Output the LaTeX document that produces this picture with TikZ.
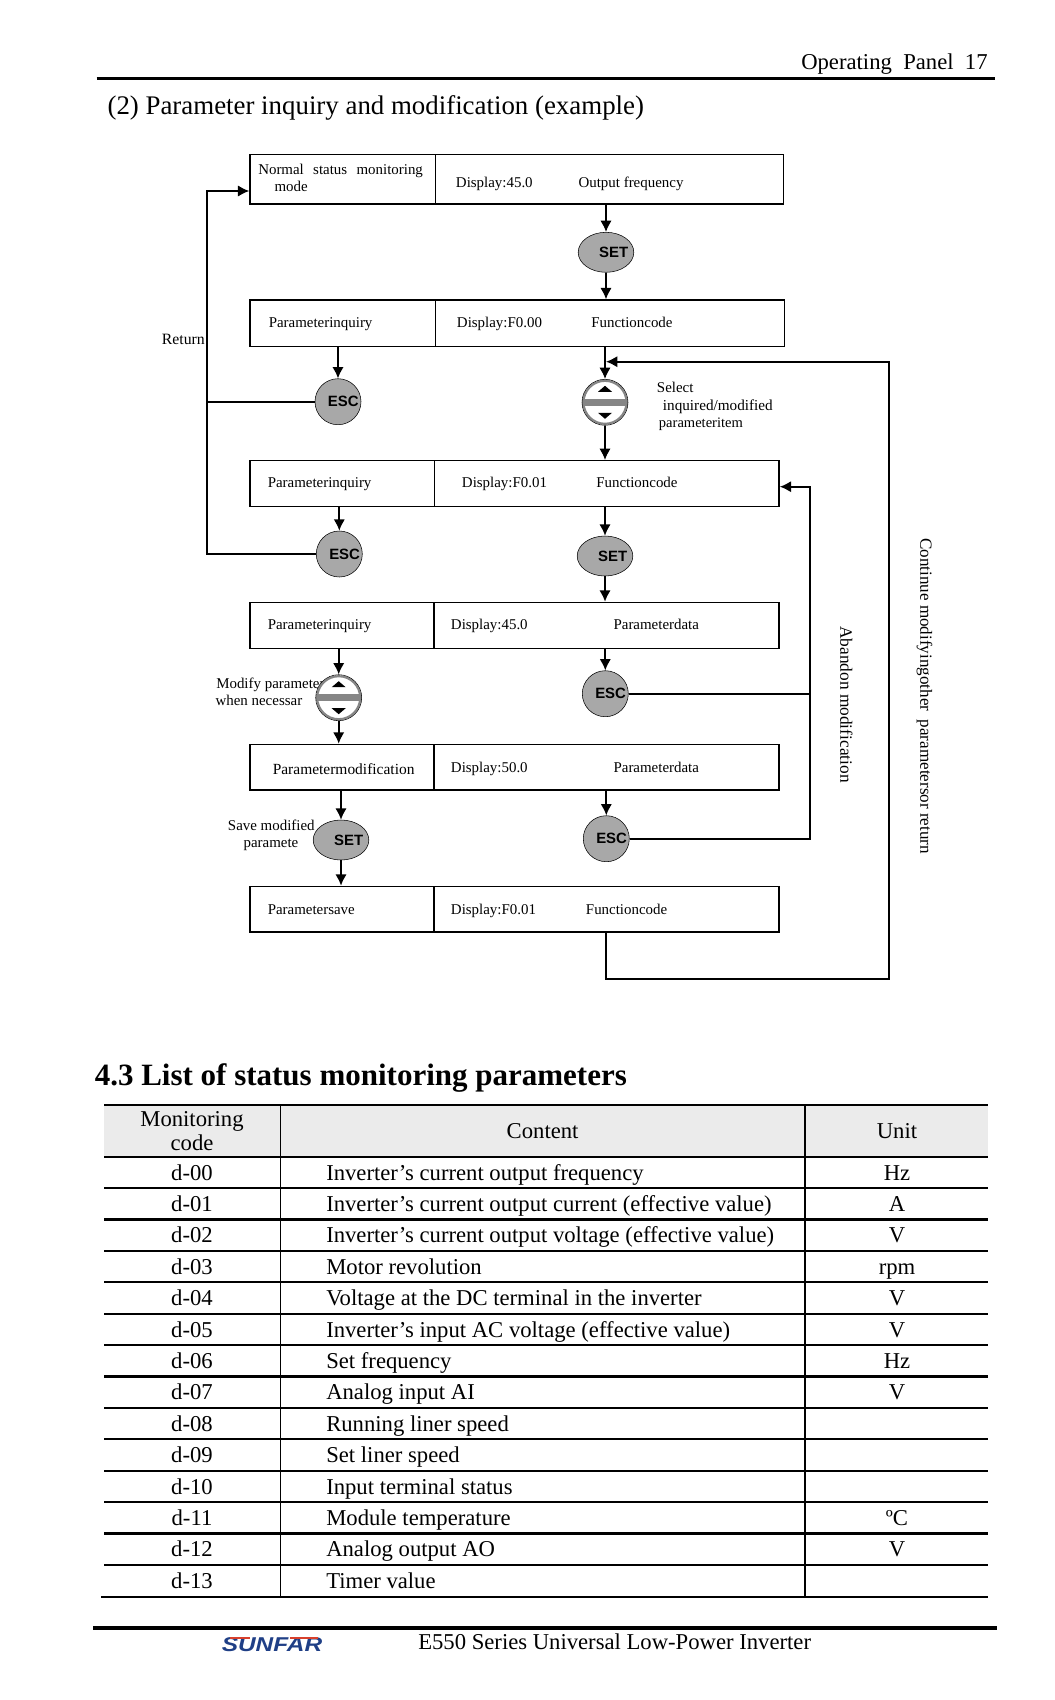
\documentclass[tikz,border=0pt]{standalone}
\usepackage{fontspec}
\setmainfont{Liberation Serif}
\newfontfamily\btnfont{Liberation Sans}
\usetikzlibrary{arrows.meta,shapes.geometric}
\definecolor{btngray}{HTML}{A8A8A8}
\definecolor{headgray}{HTML}{EBEBEB}
\definecolor{logoblue}{HTML}{1F3F86}
\definecolor{logored}{HTML}{D8402C}
\def\px{0.75pt}
\tikzset{
  cell/.style={draw,line width=1.1pt,anchor=north west,inner sep=0pt},
  txt/.style={anchor=west,inner sep=0pt,text height=7.5pt,text depth=0pt,font=\fontsize{11.2}{13}\selectfont},
  rowtxt/.style={inner sep=0pt,text height=11.5pt,text depth=0pt,font=\fontsize{17}{19}\selectfont},
  conn/.style={line width=1.3pt},
  setbtn/.style={ellipse,draw,thin,fill=btngray,inner sep=0pt,minimum width=55.6*\px,minimum height=40*\px},
  escbtn/.style={circle,draw,thin,fill=btngray,inner sep=0pt,minimum size=46*\px},
  updown/.style={circle,draw,thin,fill=white,inner sep=0pt,minimum size=46*\px,path picture={
    \begin{scope}[shift={(path picture bounding box.center)}]
      \draw[btngray!80!black,line width=1.6pt] (0,0) circle (21.5*\px);
      \fill[btngray!80!black] (-23,-3.7) rectangle (23,3.7);
      \fill[black] (-7,-10.5) -- (7,-10.5) -- (0,-16.5) -- cycle;
      \fill[black] (-7,10.5) -- (7,10.5) -- (0,16.5) -- cycle;
    \end{scope}}}
}
\newcommand{\setlab}{\makebox[0pt]{\hspace*{11.5pt}\btnfont\bfseries\fontsize{11.2}{13}\selectfont SET}}
\newcommand{\esclab}{\makebox[0pt]{\hspace*{8pt}\btnfont\bfseries\fontsize{11.2}{13}\selectfont ESC}}

\begin{document}
\begin{tikzpicture}[x=\px,y=-\px,>={Latex[length=8.5pt,width=8.5pt]}]
\useasboundingbox (0,0) rectangle (1055,1700);

% page head
\draw[line width=2.3pt] (96.7,78.3) -- (995,78.3);
\node[anchor=west,inner sep=0pt,font=\fontsize{17}{19}\selectfont] (pagehead) at (801,63.7) {Operating\ \ Panel\ \ 17};
\node[anchor=west,inner sep=0pt,font=\fontsize{20.15}{22}\selectfont] (subtitle) at (107.3,108) {(2) Parameter inquiry and modification (example)};

% the six rows of the panel
\foreach \n/\top/\bot/\mid/\rgt in {1/154/203.3/435/782.7,2/299.3/345.7/435/784,3/460/506/433.7/778.3,
  4/601.7/647.7/433.3/778.3,5/743.7/789.3/433.3/778.3,6/885.7/931.3/433.3/778.3} {
  \node[cell,minimum width={(\mid-249.3)*\px},minimum height={(\bot-\top)*\px}] (l\n) at (249.3,\top) {};
  \node[cell,minimum width={(\rgt-\mid)*\px},minimum height={(\bot-\top)*\px}] (r\n) at (\mid,\top) {};
}

\node[txt] (t1a) at (258,169) {Normal\hspace{7pt}status\hspace{7pt}monitoring};
\node[txt] (t1b) at (274.3,186) {mode};
\node[txt] (d1) at (455.7,182) {Display:45.0};
\node[txt] (f1) at (578.3,182) {Output frequency};
\node[txt] (t2) at (268.5,322.3) {Parameterinquiry};
\node[txt] (d2) at (456.7,322.3) {Display:F0.00};
\node[txt] (f2) at (591,322.3) {Functioncode};
\node[txt] (t3) at (267.5,482.7) {Parameterinquiry};
\node[txt] (d3) at (461.7,482.7) {Display:F0.01};
\node[txt] (f3) at (596,482.7) {Functioncode};
\node[txt] (t4) at (267.5,624.7) {Parameterinquiry};
\node[txt] (d4) at (450.7,624.7) {Display:45.0};
\node[txt] (f4) at (613.3,624.7) {Parameterdata};
\node[txt,font=\fontsize{11.6}{13}\selectfont] (t5) at (272.5,769.3) {Parametermodification};
\node[txt] (d5) at (450.7,767) {Display:50.0};
\node[txt] (f5) at (613.3,767) {Parameterdata};
\node[txt] (t6) at (267.5,909) {Parametersave};
\node[txt] (d6) at (450.7,909) {Display:F0.01};
\node[txt] (f6) at (585.7,909) {Functioncode};

% notes beside the buttons
\node[txt,font=\fontsize{11.8}{13}\selectfont] (ret) at (161.7,339) {Return};
\node[txt] (sel1) at (656.7,387.7) {Select};
\node[txt,font=\fontsize{11.4}{13}\selectfont] (sel2) at (662.7,405) {inquired/modified};
\node[txt,font=\fontsize{10.9}{13}\selectfont] (sel3) at (658.7,422) {parameteritem};
\node[txt] (mod1) at (216,683.3) {Modify parameter};
\node[txt] (mod2) at (215.3,700.3) {when necessar};
\node[txt] (sav1) at (227.7,825) {Save modified};
\node[txt] (sav2) at (243.3,842.7) {paramete};
\node[txt,rotate=-90,text height=8.5pt,font=\fontsize{13}{15}\selectfont] (aband) at (846,626) {Abandon modification};
\node[txt,rotate=-90,text height=8.5pt,font=\fontsize{12.8}{15}\selectfont] (cont) at (926,538) {Continue modifyingother\ \ parametersor return};

% buttons
\node[setbtn] (set1) at (606,252.3) {\setlab};
\node[escbtn] (esc1) at (338,401.7) {\esclab};
\node[updown] (ud1) at (605,402.3) {};
\node[escbtn] (esc2) at (339.3,554) {\esclab};
\node[setbtn] (set2) at (605,556) {\setlab};
\node[updown] (ud2) at (338.7,697.7) {};
\node[escbtn] (esc3) at (605.3,693.7) {\esclab};
\node[setbtn] (set3) at (341,840) {\setlab};
\node[escbtn] (esc4) at (606.3,838.7) {\esclab};

\coordinate (rettop) at (207.3,191);
\coordinate (abtop) at (810,486.7);
\coordinate (conttop) at (888.7,361.7);
\coordinate (contbot) at (888.7,979.3);

% connectors
\draw[conn,->] (set1 |- r1.south) -- (set1);
\draw[conn,->] (set1) -- (set1 |- r2.north);
\draw[conn,->] (ud1 |- r2.south) -- (ud1);
\draw[conn,->] (ud1) -- (ud1 |- r3.north);
\draw[conn,->] (set2 |- r3.south) -- (set2);
\draw[conn,->] (set2) -- (set2 |- r4.north);
\draw[conn,->] (esc3 |- r4.south) -- (esc3);
\draw[conn,->] (esc4 |- r5.south) -- (esc4);
\draw[conn,->] (esc1 |- l2.south) -- (esc1);
\draw[conn,->] (esc2 |- l3.south) -- (esc2);
\draw[conn,->] (ud2 |- l4.south) -- (ud2);
\draw[conn,->] (ud2) -- (ud2 |- l5.north);
\draw[conn,->] (set3 |- l5.south) -- (set3);
\draw[conn,->] (set3) -- (set3 |- l6.north);
\draw[conn,->] (esc2) -- (esc2 -| rettop) -- (rettop) -- (rettop -| l1.west);
\draw[conn] (esc1) -- (esc1 -| rettop);
\draw[conn,->] (esc4) -- (esc4 -| abtop) -- (abtop) -- (abtop -| r3.east);
\draw[conn] (esc3) -- (esc3 -| abtop);
\draw[conn,->] (esc4 |- r6.south) -- (esc4 |- contbot) -- (contbot) -- (conttop) -- (conttop -| set1);

% section 4.3
\node[anchor=west,inner sep=0pt,font=\fontsize{23.25}{25}\selectfont\bfseries] (sect) at (94.5,1077.5) {4.3 List of status monitoring parameters};

\fill[headgray] (104,1105.3) rectangle (988,1156.7);
\foreach \k in {0,...,13} {
  \draw[line width=1.6pt] (104,1156.7+31.4*\k) -- (988,1156.7+31.4*\k);
}
\draw[line width=1.6pt] (104,1105.3) -- (988,1105.3);
\draw[line width=1.6pt] (101,1596.6) -- (988,1596.6);
\draw[line width=1.2pt] (280.5,1105.3) -- (280.5,1596.6);
\draw[line width=1.2pt] (805,1105.3) -- (805,1596.6);

\node[inner sep=0pt,align=center,font=\fontsize{17}{18.5}\selectfont] (hcode) at (192,1131) {Monitoring\\code};
\node[rowtxt] (hcont) at (542.6,1131) {Content};
\node[rowtxt] (hunit) at (897,1131) {Unit};

\foreach \c/\d/\u [count=\i from 0] in {d-00/Inverter’s current output frequency/Hz,
  d-01/Inverter’s current output current (effective value)/A,
  d-02/Inverter’s current output voltage (effective value)/V,
  d-03/Motor revolution/rpm,
  d-04/Voltage at the DC terminal in the inverter/V,
  d-05/Inverter’s input AC voltage (effective value)/V,
  d-06/Set frequency/Hz,
  d-07/Analog input AI/V,
  d-08/Running liner speed/,
  d-09/Set liner speed/,
  d-10/Input terminal status/,
  d-11/Module temperature/ºC,
  d-12/Analog output AO/V,
  d-13/Timer value/} {
  \node[rowtxt] (code\i) at (192,1172.5+31.4*\i) {\c};
  \node[rowtxt,anchor=west] (desc\i) at (326,1172.5+31.4*\i) {\d};
  \node[rowtxt] (unit\i) at (897,1172.5+31.4*\i) {\u};
}

% page foot
\draw[line width=2.3pt] (93,1628) -- (997,1628);
\node[inner sep=0pt,text=logoblue,font=\btnfont\bfseries\itshape\fontsize{15}{16}\selectfont] (logo) at (272,1644.5) {\scalebox{1.22}[1]{SUNFAR}};
\draw[logored,line width=1.4pt] (230,1638) -- (250,1638);
\draw[logored,line width=1.4pt] (290,1638) -- (318,1638);
\node[anchor=west,inner sep=0pt,font=\fontsize{17}{19}\selectfont] (foot) at (418,1641.7) {E550 Series Universal Low-Power Inverter};
\end{tikzpicture}
\end{document}
